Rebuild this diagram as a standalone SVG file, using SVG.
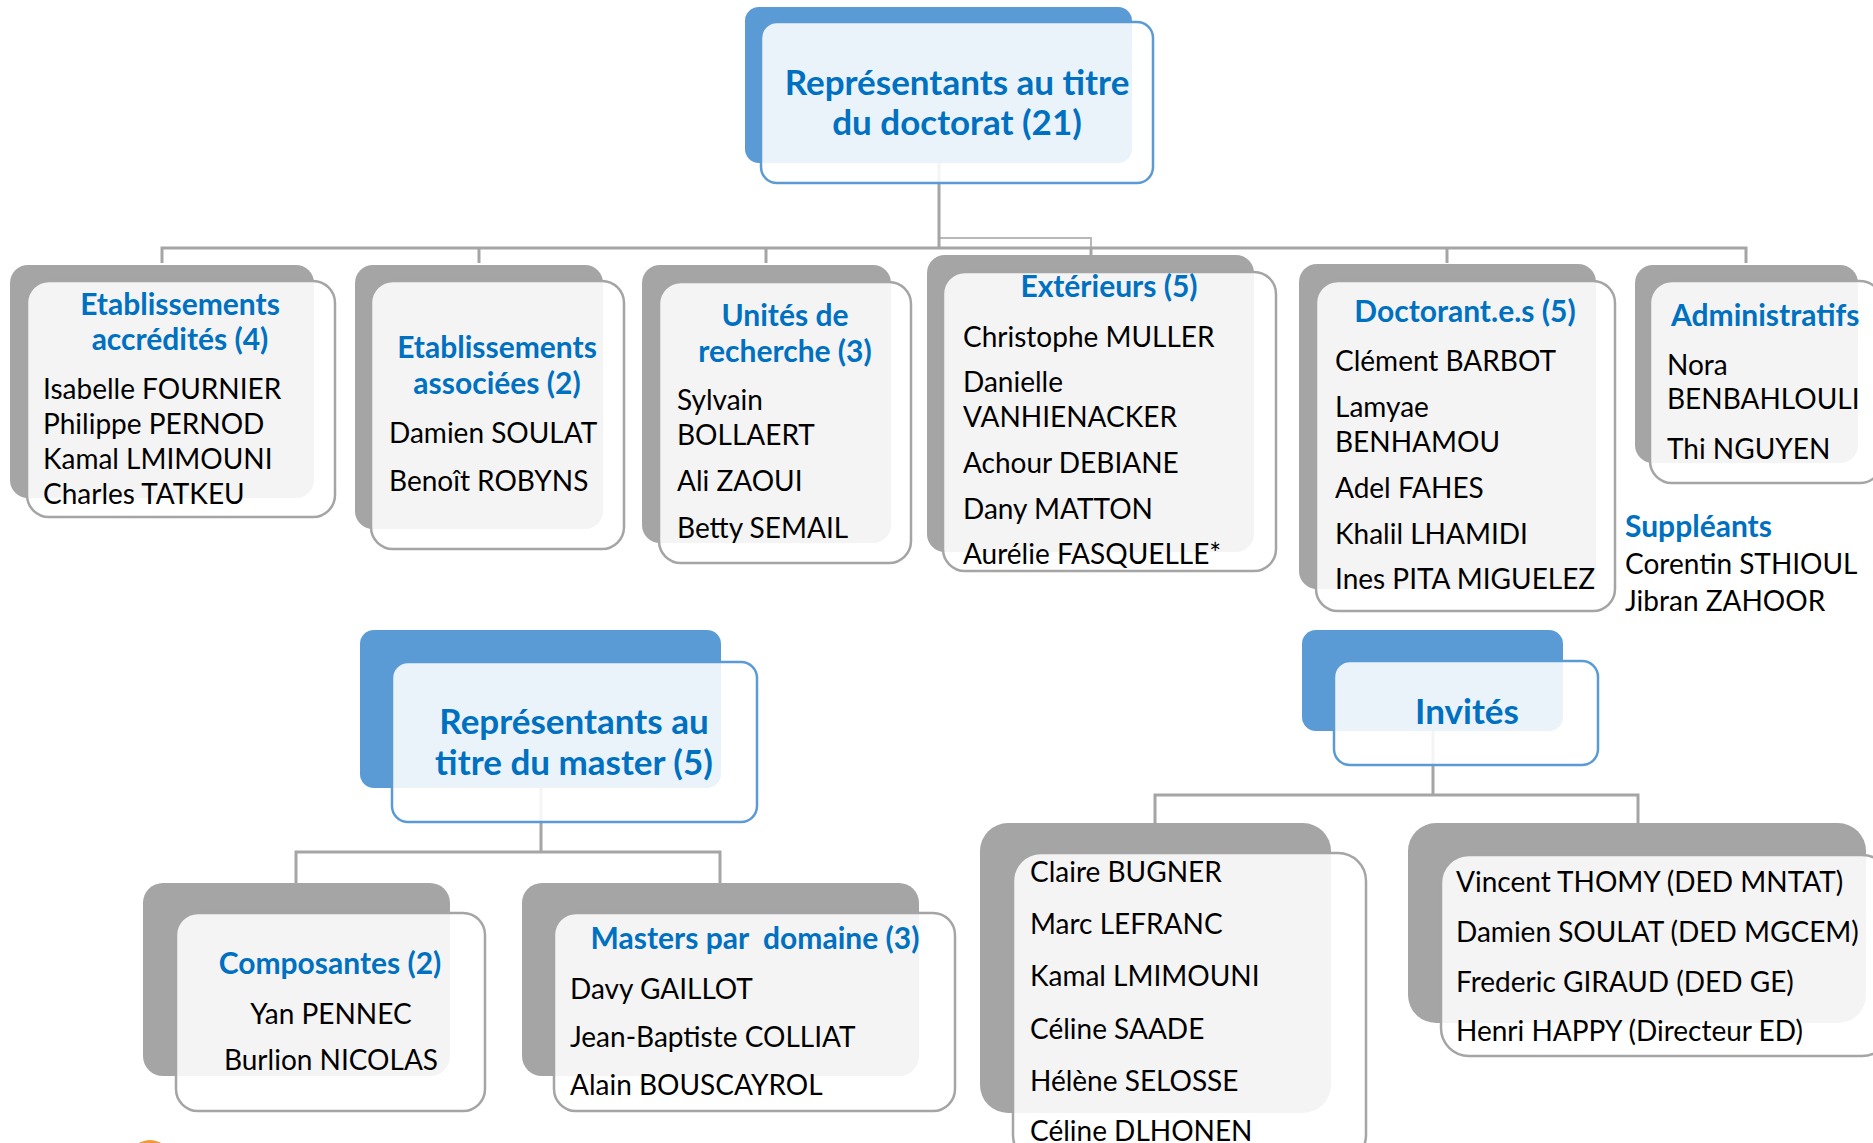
<svg xmlns="http://www.w3.org/2000/svg" width="1873" height="1143" viewBox="0 0 1873 1143">
<style>
.bb{fill:#5B9BD5}
.bf{fill:#fff;fill-opacity:.88;stroke:#5B9BD5;stroke-width:2.5}
.gb{fill:#A5A5A5}
.gf{fill:#fff;fill-opacity:.88;stroke:#A5A5A5;stroke-width:2.5}
.c{fill:none;stroke:#A5A5A5;stroke-width:3}
.c2{fill:none;stroke:#B8B8B8;stroke-width:2}
text{transform:translate(0px,2px)}
.H{font-family:Lato,'Liberation Sans',sans-serif;font-weight:bold;fill:#0070C0;font-size:35px;text-anchor:middle}
.h{font-family:Lato,'Liberation Sans',sans-serif;font-weight:bold;fill:#0070C0;font-size:30px}
.n{font-family:Lato,'Liberation Sans',sans-serif;fill:#000;font-size:28px}
.m{text-anchor:middle}
</style>
<rect width="1873" height="1143" fill="#fff"/>
<g id="connectors">
<path class="c2" d="M939,238 H1091 V256"/>
<path class="c" d="M939,163 V248"/>
<path class="c" d="M162,263 V248 H1746 V263"/>
<path class="c" d="M479,248 V263 M766,248 V263 M1091,248 V255 M1447,248 V263"/>
<path class="c" d="M541,788 V852 M296,883 V852 H720 V883"/>
<path class="c" d="M1433,731 V795 M1155,823 V795 H1638 V823"/>
</g>
<g id="node-doctorat">
<rect class="bb" x="745" y="7" width="387" height="156" rx="14"/>
<rect class="bf" x="761" y="22" width="392" height="161" rx="16"/>
<text class="H"><tspan x="957" y="93">Représentants au titre</tspan><tspan x="957" y="133">du doctorat (21)</tspan></text>
</g>
<g id="node-accredites">
<rect class="gb" x="10" y="265" width="304" height="233" rx="18"/>
<rect class="gf" x="27" y="281" width="308" height="236" rx="22"/>
<text class="h m"><tspan x="180" y="313">Etablissements</tspan><tspan x="180" y="348">accrédités (4)</tspan></text>
<text class="n"><tspan x="43" y="397">Isabelle FOURNIER</tspan><tspan x="43" y="432">Philippe PERNOD</tspan><tspan x="43" y="467">Kamal LMIMOUNI</tspan><tspan x="43" y="502">Charles TATKEU</tspan></text>
</g>
<g id="node-associees">
<rect class="gb" x="355" y="265" width="248" height="264" rx="18"/>
<rect class="gf" x="371" y="281" width="253" height="268" rx="22"/>
<text class="h m"><tspan x="497" y="356">Etablissements</tspan><tspan x="497" y="392">associées (2)</tspan></text>
<text class="n"><tspan x="389" y="441">Damien SOULAT</tspan><tspan x="389" y="489">Benoît ROBYNS</tspan></text>
</g>
<g id="node-unites">
<rect class="gb" x="642" y="265" width="249" height="278" rx="18"/>
<rect class="gf" x="659" y="282" width="252" height="281" rx="22"/>
<text class="h m"><tspan x="785" y="324">Unités de</tspan><tspan x="785" y="360">recherche (3)</tspan></text>
<text class="n"><tspan x="677" y="408">Sylvain</tspan><tspan x="677" y="443">BOLLAERT</tspan><tspan x="677" y="489">Ali ZAOUI</tspan><tspan x="677" y="536">Betty SEMAIL</tspan></text>
</g>
<g id="node-exterieurs">
<rect class="gb" x="927" y="255" width="327" height="297" rx="18"/>
<rect class="gf" x="943" y="272" width="333" height="299" rx="22"/>
<text class="h m" x="1109" y="295">Extérieurs (5)</text>
<text class="n"><tspan x="963" y="345">Christophe MULLER</tspan><tspan x="963" y="390">Danielle</tspan><tspan x="963" y="425">VANHIENACKER</tspan><tspan x="963" y="471">Achour DEBIANE</tspan><tspan x="963" y="517">Dany MATTON</tspan><tspan x="963" y="562">Aurélie FASQUELLE*</tspan></text>
</g>
<g id="node-doctorants">
<rect class="gb" x="1299" y="264" width="297" height="325" rx="18"/>
<rect class="gf" x="1316" y="281" width="299" height="330" rx="22"/>
<text class="h m" x="1465" y="320">Doctorant.e.s (5)</text>
<text class="n"><tspan x="1335" y="369">Clément BARBOT</tspan><tspan x="1335" y="415">Lamyae</tspan><tspan x="1335" y="450">BENHAMOU</tspan><tspan x="1335" y="496">Adel FAHES</tspan><tspan x="1335" y="542">Khalil LHAMIDI</tspan><tspan x="1335" y="587">Ines PITA MIGUELEZ</tspan></text>
</g>
<g id="node-administratifs">
<rect class="gb" x="1635" y="265" width="223" height="198" rx="18"/>
<rect class="gf" x="1650" y="281" width="232" height="202" rx="22"/>
<text class="h" x="1671" y="324">Administratifs</text>
<text class="n"><tspan x="1667" y="373">Nora</tspan><tspan x="1667" y="407">BENBAHLOULI</tspan><tspan x="1667" y="457">Thi NGUYEN</tspan></text>
</g>
<g id="suppleants">
<text class="h" x="1625" y="535">Suppléants</text>
<text class="n"><tspan x="1625" y="572">Corentin STHIOUL</tspan><tspan x="1625" y="609">Jibran ZAHOOR</tspan></text>
</g>
<g id="node-master">
<rect class="bb" x="360" y="630" width="361" height="158" rx="14"/>
<rect class="bf" x="392" y="662" width="365" height="160" rx="16"/>
<text class="H"><tspan x="574" y="732">Représentants au</tspan><tspan x="574" y="773">titre du master (5)</tspan></text>
</g>
<g id="node-invites">
<rect class="bb" x="1302" y="630" width="261" height="101" rx="14"/>
<rect class="bf" x="1334" y="661" width="264" height="104" rx="16"/>
<text class="H" x="1467" y="722">Invités</text>
</g>
<g id="node-composantes">
<rect class="gb" x="143" y="883" width="307" height="193" rx="20"/>
<rect class="gf" x="176" y="913" width="309" height="198" rx="22"/>
<text class="h m" x="330" y="972">Composantes (2)</text>
<text class="n m"><tspan x="331" y="1022">Yan PENNEC</tspan><tspan x="331" y="1068">Burlion NICOLAS</tspan></text>
</g>
<g id="node-masters">
<rect class="gb" x="522" y="883" width="397" height="193" rx="20"/>
<rect class="gf" x="554" y="913" width="401" height="198" rx="22"/>
<text class="h m" x="755" y="947" xml:space="preserve">Masters par  domaine (3)</text>
<text class="n"><tspan x="570" y="997">Davy GAILLOT</tspan><tspan x="570" y="1045">Jean-Baptiste COLLIAT</tspan><tspan x="570" y="1093">Alain BOUSCAYROL</tspan></text>
</g>
<g id="node-invites-1">
<rect class="gb" x="980" y="823" width="351" height="290" rx="28"/>
<rect class="gf" x="1013" y="853" width="353" height="310" rx="28"/>
<text class="n"><tspan x="1030" y="880">Claire BUGNER</tspan><tspan x="1030" y="932">Marc LEFRANC</tspan><tspan x="1030" y="984">Kamal LMIMOUNI</tspan><tspan x="1030" y="1037">Céline SAADE</tspan><tspan x="1030" y="1089">Hélène SELOSSE</tspan><tspan x="1030" y="1139">Céline DLHONEN</tspan></text>
</g>
<g id="node-invites-2">
<rect class="gb" x="1408" y="823" width="458" height="200" rx="28"/>
<rect class="gf" x="1441" y="855" width="449" height="201" rx="28"/>
<text class="n"><tspan x="1456" y="890">Vincent THOMY (DED MNTAT)</tspan><tspan x="1456" y="940">Damien SOULAT (DED MGCEM)</tspan><tspan x="1456" y="990">Frederic GIRAUD (DED GE)</tspan><tspan x="1456" y="1039">Henri HAPPY (Directeur ED)</tspan></text>
</g>
<circle cx="150" cy="1162" r="22" fill="#EE9A3A"/>
</svg>
